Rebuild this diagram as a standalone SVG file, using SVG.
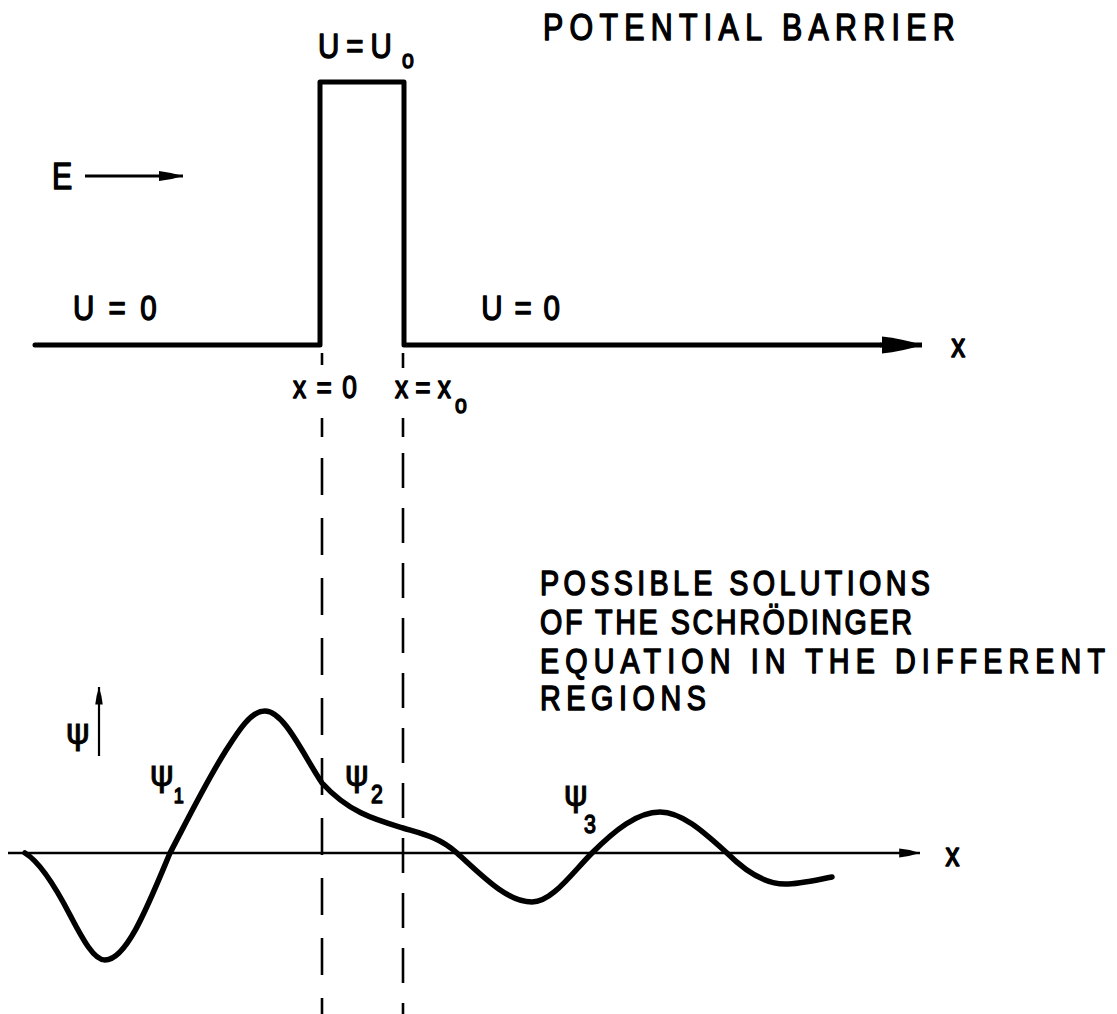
<svg xmlns="http://www.w3.org/2000/svg" width="1117" height="1014" viewBox="0 0 1117 1014">
<defs>
<style>
.t{font-family:"Liberation Sans","DejaVu Sans",sans-serif;fill:#000;stroke:#000;stroke-width:1.5;stroke-linejoin:round}
.g{font-family:"DejaVu Sans","Liberation Sans",sans-serif;fill:#000;stroke:#000;stroke-width:0.8}
.thick{fill:none;stroke:#000;stroke-width:5;stroke-linejoin:round;stroke-linecap:round}
.axis{fill:none;stroke:#000;stroke-width:2.6}
.dash{fill:none;stroke:#000;stroke-width:2.6}
.curve{fill:none;stroke:#000;stroke-width:5.5;stroke-linecap:round;stroke-linejoin:round}
</style>
<marker id="ah" viewBox="0 -2 8 4" refX="8" refY="0" markerWidth="8" markerHeight="4" markerUnits="strokeWidth" orient="auto">
<path d="M0,-1.7 Q4,-1.3 8,0 Q4,1.3 0,1.7 Z" fill="#000"/>
</marker>
</defs>
<rect width="1117" height="1014" fill="#fff"/>

<g id="title-barrier" transform="scale(0.82 1)">
<text class="t" x="662.2" y="40" font-size="37" textLength="502" lengthAdjust="spacing">POTENTIAL  BARRIER</text>
</g>

<g id="barrier">
<polyline class="thick" points="35,345 320,345 320,82 404,82 404,345 880,345"/>
</g>
<g id="label-u0" transform="scale(0.82 1)">
<text class="t" x="387.8" y="58" font-size="36" textLength="90" lengthAdjust="spacing">U=U</text>
<text class="t" x="490.2" y="68" font-size="26">o</text>
</g>
<g id="label-E" transform="scale(0.82 1)">
<text class="t" x="63.4" y="189" font-size="37">E</text>
</g>
<g id="label-u-left" transform="scale(0.82 1)"><text class="t" x="89" y="320" font-size="36" textLength="102" lengthAdjust="spacing">U=0</text></g>
<g id="label-u-right" transform="scale(0.82 1)"><text class="t" x="587" y="320" font-size="36" textLength="96" lengthAdjust="spacing">U=0</text></g>
<g id="label-x0" transform="scale(0.82 1)"><text class="t" x="357.3" y="398" font-size="32" textLength="78" lengthAdjust="spacing">x=0</text></g>
<g id="label-xx0" transform="scale(0.82 1)">
<text class="t" x="481.7" y="398" font-size="32" textLength="68" lengthAdjust="spacing">x=x</text>
<text class="t" x="554.9" y="413" font-size="26">o</text>
</g>
<g id="label-x-top" transform="scale(0.82 1)"><text class="t" x="1160" y="357" font-size="34">x</text></g>

<g id="title-solutions" transform="scale(0.82 1)">
<text class="t" x="658.5" y="595" font-size="35" textLength="475.6" lengthAdjust="spacing">POSSIBLE  SOLUTIONS</text>
<text class="t" x="658.5" y="634" font-size="35" textLength="453.7" lengthAdjust="spacing">OF THE SCHRÖDINGER</text>
<text class="t" x="658.5" y="673" font-size="35" textLength="689" lengthAdjust="spacing">EQUATION IN THE DIFFERENT</text>
<text class="t" x="658.5" y="710" font-size="35" textLength="202.4" lengthAdjust="spacing">REGIONS</text>
</g>

<g id="label-psi"><text class="g" x="66" y="744" font-size="36">ψ</text></g>
<g id="label-psi1"><text class="g" x="150" y="786" font-size="36">ψ</text><text class="t" x="174" y="803" font-size="22" transform="scale(0.82 1)" dx="38">1</text></g>
<g id="label-psi2"><text class="g" x="345" y="786" font-size="36">ψ</text><text class="t" x="452.4" y="803" font-size="26" transform="scale(0.82 1)">2</text></g>
<g id="label-psi3"><text class="g" x="564" y="806" font-size="36">ψ</text><text class="t" x="712.2" y="833" font-size="26" transform="scale(0.82 1)">3</text></g>
<g id="label-x-bottom" transform="scale(0.82 1)"><text class="t" x="1153" y="866" font-size="34">x</text></g>

<g id="connectors">
<line x1="85" y1="176" x2="183" y2="176" stroke="#000" stroke-width="3" marker-end="url(#ah)"/>
<line x1="880" y1="345" x2="922" y2="345" stroke="#000" stroke-width="5" marker-end="url(#ah)"/>
<line class="axis" x1="8" y1="853" x2="920" y2="853" marker-end="url(#ah)"/>
<line class="axis" x1="99" y1="756" x2="99" y2="687" style="stroke-width:2.2" marker-end="url(#ah)"/>
<path class="dash" d="M322,353V365M322,418V437"/>
<line class="dash" x1="322" y1="458" x2="322" y2="1014" stroke-dasharray="37 23"/>
<path class="dash" d="M403,353V368M403,418V437"/>
<line class="dash" x1="403" y1="453" x2="403" y2="1014" stroke-dasharray="35 20"/>
<path class="curve" d="M25,853 C40,862 55,886 70,915 C81.7,937 93.3,960 105,960 C126.7,960 148.3,905 170,853 C188.3,818 206.7,781 225,752 C237.7,732 250.3,711 265,711 C284,711 303,754.5 322,783 C349,812.7 376,819.9 403,828 C421,833.4 439,836.8 457,853 C482,875.5 507,902 532,902 C552,902 572,873 592,853 C614.7,830.3 637.3,812 660,812 C682.3,812 704.7,833 727,853 C746.3,872.3 765.7,884 785,884 C800,884 816,880 832,877"/>
</g>
</svg>
